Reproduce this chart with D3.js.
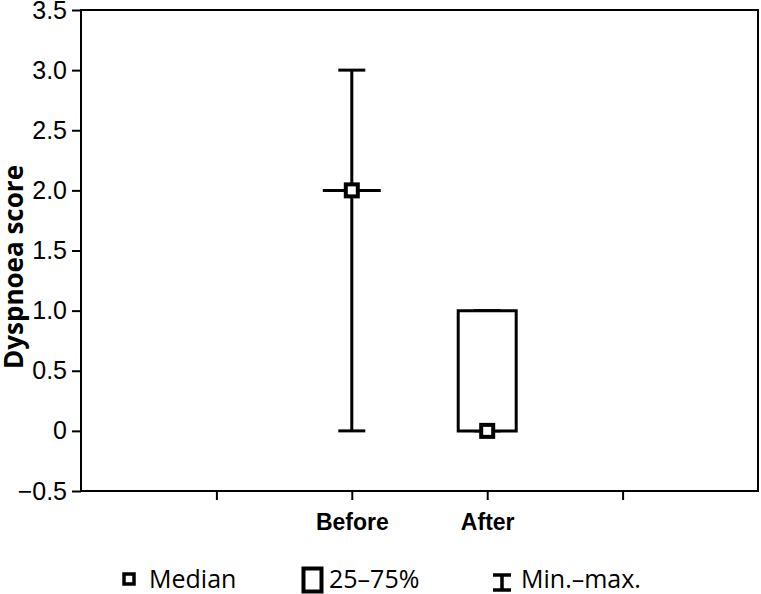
<!DOCTYPE html>
<meta charset="utf-8">
<style type="text/css">
	body { margin: 0; background: #fff; }
	svg { font-family: "Open Sans", sans-serif; }
	.axis path, .axis line { stroke: #000; stroke-width: 2px; }
	.axis text { font-size: 25px; fill: #000; }
	.x.axis text { font-weight: bold; font-size: 23px; }
	.frame { fill: none; stroke: #000; stroke-width: 2px; }
	.whisker { stroke: #000; stroke-width: 3px; }
	.box { fill: #fff; stroke: #000; stroke-width: 3px; }
	.median { fill: #fff; stroke: #000; stroke-width: 4px; }
	.legend text { font-size: 25px; fill: #000; }
</style>
<body></body>
<script src="https://d3js.org/d3.v7.min.js"></script>
<script>

	// data
	var groups = ["Before", "After"];
	var groupPos = [2, 3];
	var medians = [2, 0];
	var q1s = [2, 0];
	var q3s = [2, 1];
	var mins = [0, 0];
	var maxs = [3, 1];
	var yTicks = [-0.5, 0, 0.5, 1, 1.5, 2, 2.5, 3, 3.5];
	var xTicks = [1, 2, 3, 4];
	var legendLabels = ["Median", "25\u201375%", "Min.\u2013max."];

	var W = 761, H = 594;
	var margin = {top: 10, right: 3, bottom: 103, left: 81};
	var width = W - margin.left - margin.right;
	var height = H - margin.top - margin.bottom;

	var svg = d3.select("body").append("svg")
		.attr("width", W)
		.attr("height", H);

	var g = svg.append("g")
		.attr("transform", "translate(" + margin.left + "," + margin.top + ")");

	var xScale = d3.scaleLinear().domain([0, 5]).range([0, width]);
	var yScale = d3.scaleLinear().domain([-0.5, 3.5]).range([height, 0]);

	var fmt = function(d) {
		if (d === 0) return "0";
		return (d < 0 ? "\u2212" : "") + d3.format(".1f")(Math.abs(d));
	};

	var y_axis = d3.axisLeft(yScale)
		.tickValues(yTicks)
		.tickSize(9)
		.tickPadding(5)
		.tickFormat(fmt);

	var x_axis = d3.axisBottom(xScale)
		.tickValues(xTicks)
		.tickSize(9)
		.tickPadding(14)
		.tickFormat(function(d) {
			var i = groupPos.indexOf(d);
			return i >= 0 ? groups[i] : "";
		});

	g.append("g")
		.attr("class", "y axis")
		.call(y_axis)
		.call(function(s) { s.select(".domain").remove(); });

	g.append("g")
		.attr("class", "x axis")
		.attr("transform", "translate(0," + height + ")")
		.call(x_axis)
		.call(function(s) { s.select(".domain").remove(); });

	g.append("rect")
		.attr("class", "frame")
		.attr("x", 0)
		.attr("y", 0)
		.attr("width", width)
		.attr("height", height);

	// y title
	svg.append("text")
		.attr("transform", "translate(23," + (margin.top + 257) + ") rotate(-90)")
		.attr("text-anchor", "middle")
		.style("font-weight", "bold")
		.style("font-size", "26px")
		.text("Dyspnoea score");

	var boxW = 58, capW = 27, medS = 12;

	var idx = d3.range(groups.length);

	// whiskers
	g.selectAll(".whisker-line")
		.data(idx)
		.enter()
		.append("line")
		.attr("class", "whisker")
		.attr("x1", function(i) { return xScale(groupPos[i]); })
		.attr("x2", function(i) { return xScale(groupPos[i]); })
		.attr("y1", function(i) { return yScale(mins[i]); })
		.attr("y2", function(i) { return yScale(maxs[i]); });

	["min", "max"].forEach(function(k) {
		var arr = k == "min" ? mins : maxs;
		g.selectAll(".cap-" + k)
			.data(idx)
			.enter()
			.append("line")
			.attr("class", "whisker")
			.attr("x1", function(i) { return xScale(groupPos[i]) - capW / 2; })
			.attr("x2", function(i) { return xScale(groupPos[i]) + capW / 2; })
			.attr("y1", function(i) { return yScale(arr[i]); })
			.attr("y2", function(i) { return yScale(arr[i]); });
	});

	// boxes (path, so a collapsed box still shows as a line)
	g.selectAll(".box")
		.data(idx)
		.enter()
		.append("path")
		.attr("class", "box")
		.attr("d", function(i) {
			var x0 = xScale(groupPos[i]) - boxW / 2, x1 = x0 + boxW;
			var y0 = yScale(q3s[i]), y1 = yScale(q1s[i]);
			return "M" + x0 + "," + y0 + "H" + x1 + "V" + y1 + "H" + x0 + "Z";
		});

	// medians
	g.selectAll(".median")
		.data(idx)
		.enter()
		.append("rect")
		.attr("class", "median")
		.attr("x", function(i) { return xScale(groupPos[i]) - medS / 2; })
		.attr("y", function(i) { return yScale(medians[i]) - medS / 2; })
		.attr("width", medS)
		.attr("height", medS);

	// legend
	var legend = svg.append("g").attr("class", "legend");

	legend.append("rect")
		.attr("x", 124).attr("y", 574)
		.attr("width", 10).attr("height", 10)
		.style("fill", "#fff").style("stroke", "#000").style("stroke-width", 3.5);

	legend.append("rect")
		.attr("x", 303.5).attr("y", 568.5)
		.attr("width", 18).attr("height", 23)
		.style("fill", "#fff").style("stroke", "#000").style("stroke-width", 4);

	var ic = legend.append("g").style("stroke", "#000").style("stroke-width", 3.5);
	ic.append("line").attr("x1", 502).attr("x2", 502).attr("y1", 574).attr("y2", 591);
	ic.append("line").attr("x1", 493).attr("x2", 511).attr("y1", 575).attr("y2", 575);
	ic.append("line").attr("x1", 493).attr("x2", 511).attr("y1", 590).attr("y2", 590);

	var legendX = [149, 329, 521];
	legend.selectAll("text")
		.data(legendLabels)
		.enter()
		.append("text")
		.attr("x", function(d, i) { return legendX[i]; })
		.attr("y", 588)
		.text(function(d) { return d; });

</script>
